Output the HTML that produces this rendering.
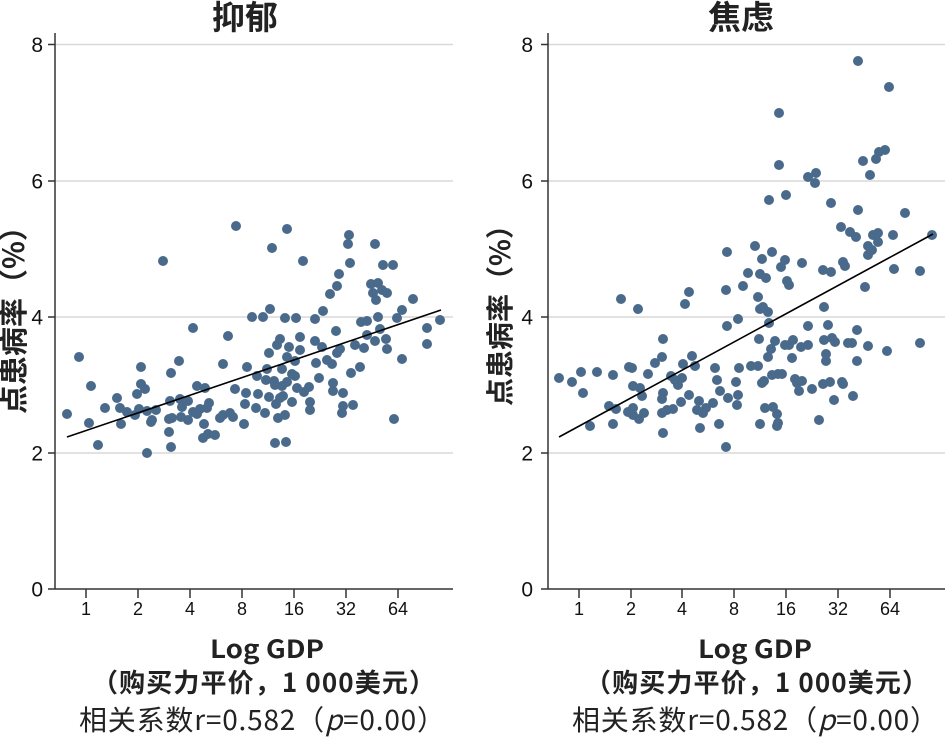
<!DOCTYPE html>
<html><head><meta charset="utf-8"><style>
html,body{margin:0;padding:0;background:#fff;}
svg{display:block;}
.t{font-family:"Liberation Sans",Arial,sans-serif;fill:#111;}
.c{font-family:"Noto Sans CJK SC","Liberation Sans",sans-serif;fill:#222;}
</style></head><body>
<svg width="945" height="755" viewBox="0 0 945 755" xmlns="http://www.w3.org/2000/svg">
<rect width="945" height="755" fill="#fff"/>

<!-- LEFT PANEL -->
<g stroke="#d9d9d9" stroke-width="1.5">
<line x1="55" y1="44.5" x2="453" y2="44.5"/>
<line x1="55" y1="181" x2="453" y2="181"/>
<line x1="55" y1="317" x2="453" y2="317"/>
<line x1="55" y1="453" x2="453" y2="453"/>
</g>
<g stroke="#333" stroke-width="1.5" fill="none">
<line x1="55" y1="33" x2="55" y2="589"/>
<line x1="48" y1="589" x2="453" y2="589"/>
<line x1="48" y1="44.5" x2="55" y2="44.5"/>
<line x1="48" y1="181" x2="55" y2="181"/>
<line x1="48" y1="317" x2="55" y2="317"/>
<line x1="48" y1="453" x2="55" y2="453"/>
<line x1="86" y1="589" x2="86" y2="598"/>
<line x1="138" y1="589" x2="138" y2="598"/>
<line x1="190" y1="589" x2="190" y2="598"/>
<line x1="242" y1="589" x2="242" y2="598"/>
<line x1="294" y1="589" x2="294" y2="598"/>
<line x1="346" y1="589" x2="346" y2="598"/>
<line x1="398" y1="589" x2="398" y2="598"/>
</g>
<g class="t" font-size="21" text-anchor="end">
<text x="43" y="52">8</text>
<text x="43" y="188.5">6</text>
<text x="43" y="324.5">4</text>
<text x="43" y="460.5">2</text>
<text x="43" y="596.5">0</text>
</g>
<g class="t" font-size="18" text-anchor="middle">
<text x="86" y="615">1</text>
<text x="138" y="615">2</text>
<text x="190" y="615">4</text>
<text x="242" y="615">8</text>
<text x="294" y="615">16</text>
<text x="346" y="615">32</text>
<text x="398" y="615">64</text>
</g>
<text class="c" x="245" y="29" font-size="33" font-weight="bold" text-anchor="middle">抑郁</text>
<text class="c" transform="translate(24,414) rotate(-90)" font-size="29" font-weight="bold">点患病率（%）</text>
<text class="c" x="267" y="658" font-size="25" font-weight="bold" text-anchor="middle" textLength="114" lengthAdjust="spacingAndGlyphs">Log GDP</text>
<text class="c" x="92" y="692" font-size="26" font-weight="bold" textLength="343" lengthAdjust="spacing">（购买力平价，1 000美元）</text>
<text class="c" x="79" y="730" font-size="28" textLength="366" lengthAdjust="spacing">相关系数r=0.582（<tspan font-style="italic">p</tspan>=0.00）</text>

<g fill="#4a6a8c">
<circle cx="236" cy="226" r="5"/><circle cx="287" cy="229" r="5"/><circle cx="349" cy="235" r="5"/><circle cx="348" cy="244" r="5"/><circle cx="375" cy="244" r="5"/><circle cx="272" cy="248" r="5"/>
<circle cx="163" cy="261" r="5"/><circle cx="303" cy="261" r="5"/><circle cx="350" cy="263" r="5"/><circle cx="383" cy="265" r="5"/><circle cx="393" cy="265" r="5"/><circle cx="339" cy="274" r="5"/><circle cx="337" cy="286" r="5"/><circle cx="371" cy="284" r="5"/><circle cx="378" cy="283" r="5"/><circle cx="373" cy="293" r="5"/><circle cx="382" cy="290" r="5"/><circle cx="387" cy="293" r="5"/><circle cx="376" cy="300" r="5"/><circle cx="330" cy="294" r="5"/><circle cx="413" cy="299" r="5"/><circle cx="323" cy="311" r="5"/><circle cx="402" cy="310" r="5"/><circle cx="270" cy="309" r="5"/><circle cx="263" cy="317" r="5"/><circle cx="252" cy="317" r="5"/><circle cx="285" cy="318" r="5"/><circle cx="296" cy="318" r="5"/><circle cx="315" cy="319" r="5"/><circle cx="378" cy="317" r="5"/><circle cx="397" cy="318" r="5"/><circle cx="440" cy="320" r="5"/><circle cx="361" cy="322" r="5"/><circle cx="367" cy="321" r="5"/><circle cx="193" cy="328" r="5"/><circle cx="427" cy="328" r="5"/><circle cx="380" cy="329" r="5"/><circle cx="336" cy="331" r="5"/><circle cx="228" cy="336" r="5"/><circle cx="367" cy="335" r="5"/><circle cx="300" cy="337" r="5"/><circle cx="280" cy="339" r="5"/><circle cx="315" cy="341" r="5"/><circle cx="375" cy="341" r="5"/><circle cx="386" cy="339" r="5"/><circle cx="277" cy="345" r="5"/><circle cx="289" cy="347" r="5"/><circle cx="322" cy="347" r="5"/><circle cx="355" cy="345" r="5"/><circle cx="364" cy="348" r="5"/><circle cx="340" cy="349" r="5"/><circle cx="427" cy="344" r="5"/><circle cx="387" cy="349" r="5"/><circle cx="300" cy="350" r="5"/><circle cx="269" cy="353" r="5"/><circle cx="337" cy="353" r="5"/><circle cx="79" cy="357" r="5"/><circle cx="287" cy="357" r="5"/><circle cx="295" cy="361" r="5"/><circle cx="179" cy="361" r="5"/><circle cx="327" cy="360" r="5"/><circle cx="402" cy="359" r="5"/><circle cx="223" cy="364" r="5"/><circle cx="247" cy="367" r="5"/><circle cx="316" cy="363" r="5"/><circle cx="332" cy="364" r="5"/><circle cx="141" cy="367" r="5"/><circle cx="360" cy="367" r="5"/><circle cx="267" cy="369" r="5"/><circle cx="282" cy="369" r="5"/><circle cx="171" cy="373" r="5"/><circle cx="351" cy="373" r="5"/><circle cx="292" cy="374" r="5"/><circle cx="257" cy="376" r="5"/><circle cx="295" cy="376" r="5"/><circle cx="319" cy="378" r="5"/><circle cx="266" cy="380" r="5"/><circle cx="274" cy="381" r="5"/><circle cx="287" cy="382" r="5"/><circle cx="91" cy="386" r="5"/><circle cx="197" cy="386" r="5"/><circle cx="205" cy="388" r="5"/><circle cx="275" cy="385" r="5"/><circle cx="282" cy="386" r="5"/><circle cx="333" cy="383" r="5"/><circle cx="141" cy="384" r="5"/><circle cx="145" cy="389" r="5"/><circle cx="235" cy="389" r="5"/><circle cx="297" cy="388" r="5"/><circle cx="309" cy="387" r="5"/><circle cx="304" cy="392" r="5"/><circle cx="246" cy="393" r="5"/><circle cx="333" cy="391" r="5"/><circle cx="343" cy="393" r="5"/><circle cx="137" cy="394" r="5"/><circle cx="258" cy="394" r="5"/><circle cx="269" cy="397" r="5"/><circle cx="280" cy="398" r="5"/><circle cx="117" cy="398" r="5"/><circle cx="180" cy="399" r="5"/><circle cx="188" cy="401" r="5"/><circle cx="170" cy="401" r="5"/><circle cx="283" cy="396" r="5"/><circle cx="292" cy="402" r="5"/><circle cx="310" cy="402" r="5"/><circle cx="245" cy="404" r="5"/><circle cx="276" cy="404" r="5"/><circle cx="105" cy="408" r="5"/><circle cx="120" cy="408" r="5"/><circle cx="209" cy="403" r="5"/><circle cx="207" cy="408" r="5"/><circle cx="182" cy="407" r="5"/><circle cx="343" cy="406" r="5"/><circle cx="353" cy="405" r="5"/><circle cx="256" cy="408" r="5"/><circle cx="310" cy="410" r="5"/><circle cx="139" cy="409" r="5"/><circle cx="156" cy="410" r="5"/><circle cx="147" cy="411" r="5"/><circle cx="200" cy="409" r="5"/><circle cx="127" cy="412" r="5"/><circle cx="135" cy="415" r="5"/><circle cx="67" cy="414" r="5"/><circle cx="193" cy="412" r="5"/><circle cx="342" cy="413" r="5"/><circle cx="265" cy="413" r="5"/><circle cx="223" cy="415" r="5"/><circle cx="230" cy="413" r="5"/><circle cx="233" cy="417" r="5"/><circle cx="285" cy="415" r="5"/><circle cx="172" cy="418" r="5"/><circle cx="181" cy="417" r="5"/><circle cx="188" cy="420" r="5"/><circle cx="197" cy="414" r="5"/><circle cx="220" cy="418" r="5"/><circle cx="169" cy="419" r="5"/><circle cx="152" cy="420" r="5"/><circle cx="278" cy="418" r="5"/><circle cx="394" cy="419" r="5"/><circle cx="89" cy="423" r="5"/><circle cx="121" cy="424" r="5"/><circle cx="151" cy="422" r="5"/><circle cx="204" cy="424" r="5"/><circle cx="244" cy="424" r="5"/><circle cx="169" cy="432" r="5"/><circle cx="203" cy="438" r="5"/><circle cx="208" cy="434" r="5"/><circle cx="215" cy="435" r="5"/><circle cx="98" cy="445" r="5"/><circle cx="171" cy="447" r="5"/><circle cx="275" cy="443" r="5"/><circle cx="286" cy="442" r="5"/><circle cx="147" cy="453" r="5"/>
</g>
<line x1="67" y1="437" x2="441" y2="310" stroke="#000" stroke-width="1.6"/>

<!-- RIGHT PANEL -->
<g stroke="#d9d9d9" stroke-width="1.5">
<line x1="548" y1="44.5" x2="945" y2="44.5"/>
<line x1="548" y1="181" x2="945" y2="181"/>
<line x1="548" y1="317" x2="945" y2="317"/>
<line x1="548" y1="453" x2="945" y2="453"/>
</g>
<g stroke="#333" stroke-width="1.5" fill="none">
<line x1="548" y1="33" x2="548" y2="589"/>
<line x1="541" y1="589" x2="945" y2="589"/>
<line x1="541" y1="44.5" x2="548" y2="44.5"/>
<line x1="541" y1="181" x2="548" y2="181"/>
<line x1="541" y1="317" x2="548" y2="317"/>
<line x1="541" y1="453" x2="548" y2="453"/>
<line x1="579" y1="589" x2="579" y2="598"/>
<line x1="631" y1="589" x2="631" y2="598"/>
<line x1="682" y1="589" x2="682" y2="598"/>
<line x1="734" y1="589" x2="734" y2="598"/>
<line x1="786" y1="589" x2="786" y2="598"/>
<line x1="838" y1="589" x2="838" y2="598"/>
<line x1="890" y1="589" x2="890" y2="598"/>
</g>
<g class="t" font-size="21" text-anchor="end">
<text x="533" y="52">8</text>
<text x="533" y="188.5">6</text>
<text x="533" y="324.5">4</text>
<text x="533" y="460.5">2</text>
<text x="533" y="596.5">0</text>
</g>
<g class="t" font-size="18" text-anchor="middle">
<text x="579" y="615">1</text>
<text x="631" y="615">2</text>
<text x="682" y="615">4</text>
<text x="734" y="615">8</text>
<text x="786" y="615">16</text>
<text x="838" y="615">32</text>
<text x="890" y="615">64</text>
</g>
<text class="c" x="741" y="29" font-size="33" font-weight="bold" text-anchor="middle">焦虑</text>
<text class="c" transform="translate(510,406) rotate(-90)" font-size="28" font-weight="bold">点患病率（%）</text>
<text class="c" x="755" y="658" font-size="25" font-weight="bold" text-anchor="middle" textLength="114" lengthAdjust="spacingAndGlyphs">Log GDP</text>
<text class="c" x="585" y="692" font-size="26" font-weight="bold" textLength="343" lengthAdjust="spacing">（购买力平价，1 000美元）</text>
<text class="c" x="572" y="730" font-size="28" textLength="366" lengthAdjust="spacing">相关系数r=0.582（<tspan font-style="italic">p</tspan>=0.00）</text>

<g fill="#4a6a8c">
<circle cx="858" cy="61" r="5"/><circle cx="889" cy="87" r="5"/><circle cx="779" cy="113" r="5"/><circle cx="779" cy="165" r="5"/><circle cx="863" cy="161" r="5"/><circle cx="876" cy="159" r="5"/><circle cx="879" cy="152" r="5"/><circle cx="885" cy="150" r="5"/><circle cx="870" cy="175" r="5"/><circle cx="808" cy="177" r="5"/><circle cx="816" cy="173" r="5"/><circle cx="815" cy="183" r="5"/><circle cx="769" cy="200" r="5"/><circle cx="786" cy="195" r="5"/><circle cx="831" cy="203" r="5"/><circle cx="858" cy="210" r="5"/><circle cx="905" cy="213" r="5"/><circle cx="841" cy="227" r="5"/><circle cx="850" cy="232" r="5"/><circle cx="856" cy="237" r="5"/><circle cx="873" cy="235" r="5"/><circle cx="878" cy="233" r="5"/><circle cx="893" cy="235" r="5"/><circle cx="932" cy="235" r="5"/><circle cx="868" cy="246" r="5"/><circle cx="878" cy="242" r="5"/><circle cx="755" cy="246" r="5"/><circle cx="727" cy="252" r="5"/><circle cx="772" cy="252" r="5"/>
<circle cx="872" cy="250" r="5"/><circle cx="868" cy="255" r="5"/><circle cx="762" cy="259" r="5"/><circle cx="785" cy="260" r="5"/><circle cx="781" cy="267" r="5"/><circle cx="802" cy="263" r="5"/><circle cx="843" cy="262" r="5"/><circle cx="845" cy="266" r="5"/><circle cx="823" cy="270" r="5"/><circle cx="831" cy="272" r="5"/><circle cx="894" cy="269" r="5"/><circle cx="920" cy="271" r="5"/><circle cx="748" cy="273" r="5"/><circle cx="760" cy="274" r="5"/><circle cx="766" cy="278" r="5"/><circle cx="787" cy="281" r="5"/><circle cx="789" cy="285" r="5"/><circle cx="743" cy="286" r="5"/><circle cx="865" cy="287" r="5"/><circle cx="726" cy="290" r="5"/><circle cx="689" cy="292" r="5"/><circle cx="621" cy="299" r="5"/><circle cx="685" cy="304" r="5"/><circle cx="638" cy="309" r="5"/><circle cx="758" cy="297" r="5"/><circle cx="760" cy="309" r="5"/><circle cx="763" cy="307" r="5"/><circle cx="768" cy="312" r="5"/><circle cx="824" cy="307" r="5"/><circle cx="738" cy="319" r="5"/><circle cx="769" cy="323" r="5"/><circle cx="727" cy="326" r="5"/><circle cx="808" cy="326" r="5"/><circle cx="828" cy="325" r="5"/><circle cx="857" cy="330" r="5"/><circle cx="663" cy="339" r="5"/><circle cx="759" cy="339" r="5"/><circle cx="775" cy="341" r="5"/><circle cx="793" cy="340" r="5"/><circle cx="785" cy="345" r="5"/><circle cx="789" cy="345" r="5"/><circle cx="801" cy="347" r="5"/><circle cx="808" cy="345" r="5"/><circle cx="824" cy="340" r="5"/><circle cx="832" cy="338" r="5"/><circle cx="835" cy="342" r="5"/><circle cx="848" cy="343" r="5"/><circle cx="852" cy="343" r="5"/><circle cx="868" cy="346" r="5"/><circle cx="887" cy="351" r="5"/><circle cx="920" cy="343" r="5"/><circle cx="771" cy="349" r="5"/><circle cx="768" cy="357" r="5"/><circle cx="792" cy="358" r="5"/><circle cx="826" cy="354" r="5"/><circle cx="826" cy="361" r="5"/><circle cx="857" cy="361" r="5"/><circle cx="662" cy="357" r="5"/><circle cx="655" cy="363" r="5"/><circle cx="692" cy="356" r="5"/><circle cx="683" cy="364" r="5"/><circle cx="695" cy="366" r="5"/><circle cx="715" cy="368" r="5"/><circle cx="739" cy="368" r="5"/><circle cx="751" cy="366" r="5"/><circle cx="758" cy="366" r="5"/><circle cx="629" cy="367" r="5"/><circle cx="632" cy="368" r="5"/><circle cx="559" cy="378" r="5"/><circle cx="572" cy="382" r="5"/><circle cx="581" cy="372" r="5"/><circle cx="597" cy="372" r="5"/><circle cx="613" cy="375" r="5"/><circle cx="648" cy="374" r="5"/><circle cx="671" cy="376" r="5"/><circle cx="675" cy="380" r="5"/><circle cx="682" cy="378" r="5"/><circle cx="678" cy="385" r="5"/><circle cx="717" cy="380" r="5"/><circle cx="736" cy="382" r="5"/><circle cx="764" cy="381" r="5"/><circle cx="762" cy="383" r="5"/><circle cx="772" cy="375" r="5"/><circle cx="778" cy="374" r="5"/><circle cx="782" cy="374" r="5"/><circle cx="795" cy="379" r="5"/><circle cx="797" cy="383" r="5"/><circle cx="802" cy="381" r="5"/><circle cx="799" cy="391" r="5"/><circle cx="812" cy="389" r="5"/><circle cx="823" cy="384" r="5"/><circle cx="830" cy="382" r="5"/><circle cx="842" cy="382" r="5"/><circle cx="843" cy="384" r="5"/><circle cx="853" cy="396" r="5"/><circle cx="834" cy="400" r="5"/><circle cx="583" cy="393" r="5"/><circle cx="633" cy="386" r="5"/><circle cx="640" cy="388" r="5"/><circle cx="642" cy="396" r="5"/><circle cx="663" cy="393" r="5"/><circle cx="662" cy="399" r="5"/><circle cx="689" cy="395" r="5"/><circle cx="681" cy="402" r="5"/><circle cx="720" cy="391" r="5"/><circle cx="728" cy="398" r="5"/><circle cx="738" cy="395" r="5"/><circle cx="737" cy="405" r="5"/><circle cx="699" cy="401" r="5"/><circle cx="713" cy="403" r="5"/><circle cx="706" cy="408" r="5"/><circle cx="697" cy="410" r="5"/><circle cx="703" cy="413" r="5"/><circle cx="609" cy="406" r="5"/><circle cx="616" cy="409" r="5"/><circle cx="633" cy="408" r="5"/><circle cx="628" cy="412" r="5"/><circle cx="633" cy="415" r="5"/><circle cx="639" cy="419" r="5"/><circle cx="644" cy="413" r="5"/><circle cx="662" cy="413" r="5"/><circle cx="667" cy="410" r="5"/><circle cx="673" cy="409" r="5"/><circle cx="765" cy="408" r="5"/><circle cx="773" cy="407" r="5"/><circle cx="777" cy="414" r="5"/><circle cx="778" cy="423" r="5"/><circle cx="777" cy="426" r="5"/><circle cx="760" cy="424" r="5"/><circle cx="590" cy="426" r="5"/><circle cx="613" cy="424" r="5"/><circle cx="663" cy="433" r="5"/><circle cx="700" cy="428" r="5"/><circle cx="719" cy="424" r="5"/><circle cx="819" cy="420" r="5"/><circle cx="726" cy="447" r="5"/>
</g>
<line x1="559" y1="437" x2="933" y2="234" stroke="#000" stroke-width="1.6"/>
</svg>
</body></html>
